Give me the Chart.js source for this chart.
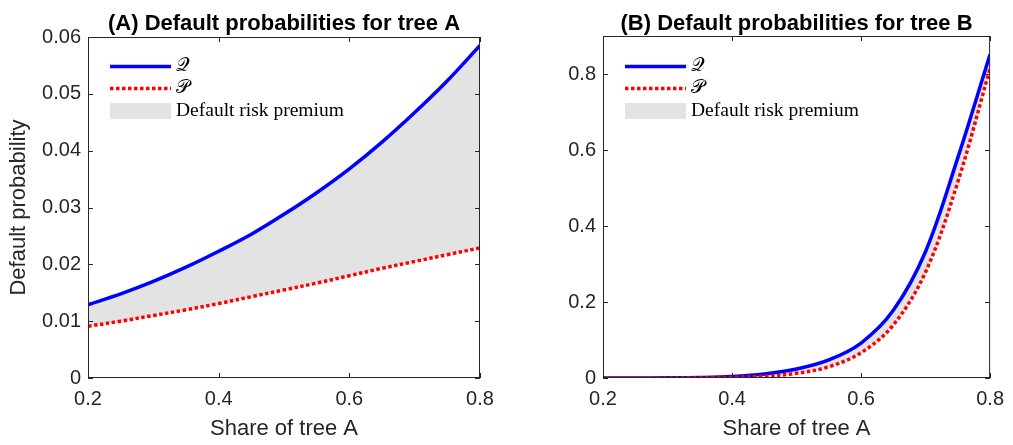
<!DOCTYPE html>
<html>
<head>
<meta charset="utf-8">
<script src="https://cdn.jsdelivr.net/npm/chart.js@4.4.1/dist/chart.umd.min.js"></script>
<style>
  html, body { margin: 0; padding: 0; background: #fff; }
  #wrap { position: relative; width: 1013px; height: 445px; }
  .panel { position: absolute; top: 0; height: 445px; }
  #panelA { left: 0; width: 506px; }
  #panelB { left: 506px; width: 507px; }
</style>
</head>
<body>
<div id="wrap">
  <div class="panel" id="panelA"><canvas id="chartA" width="506" height="445"></canvas></div>
  <div class="panel" id="panelB"><canvas id="chartB" width="507" height="445"></canvas></div>
</div>
<script>
// share of tree A on the x axis
const shareA = [0.2, 0.25, 0.3, 0.35, 0.4, 0.45, 0.5, 0.55, 0.6, 0.65, 0.7, 0.75, 0.8];

// tree A: risk-neutral (Q) and physical (P) default probabilities
const qTreeA = [0.0129, 0.0148, 0.0170, 0.0195, 0.0223, 0.0253, 0.0288, 0.0326, 0.0368, 0.0415, 0.0467, 0.0523, 0.0585];
const pTreeA = [0.0091, 0.0100, 0.0110, 0.0120, 0.0131, 0.0143, 0.0155, 0.0167, 0.0180, 0.0193, 0.0205, 0.0217, 0.0229];

// tree B
const qTreeB = [0.0001, 0.0002, 0.0005, 0.0014, 0.0040, 0.0105, 0.0235, 0.0475, 0.0920, 0.1780, 0.3330, 0.5800, 0.8520];
const pTreeB = [0.0000, 0.0001, 0.0002, 0.0006, 0.0017, 0.0047, 0.0123, 0.0295, 0.0664, 0.1395, 0.2790, 0.5160, 0.8150];

const xTicks = [0.2, 0.4, 0.6, 0.8];
const xTickLabels = ["0.2", "0.4", "0.6", "0.8"];
const yTicksA = [0, 0.01, 0.02, 0.03, 0.04, 0.05, 0.06];
const yTickLabelsA = ["0", "0.01", "0.02", "0.03", "0.04", "0.05", "0.06"];
const yTicksB = [0, 0.2, 0.4, 0.6, 0.8];
const yTickLabelsB = ["0", "0.2", "0.4", "0.6", "0.8"];

const legendLabels = ["\u{1D4AC}", "\u{1D4AB}", "Default risk premium"];

const AXIS_COLOR = "#262626";
const FILL_GRAY = "rgb(227,227,227)";
const SANS = "'Liberation Sans', Arial, Helvetica, sans-serif";

function pairs(xs, ys) {
  return xs.map((x, i) => ({ x: x, y: ys[i] }));
}

// box, inward ticks, title and the in-plot legend
const framePlugin = {
  id: "frame",
  afterDraw(chart, args, opts) {
    const ctx = chart.ctx;
    const a = chart.chartArea;
    const xs = chart.scales.x;
    const ys = chart.scales.y;
    ctx.save();

    // box
    ctx.strokeStyle = AXIS_COLOR;
    ctx.lineWidth = 1;
    ctx.strokeRect(a.left + 0.5, a.top + 0.5, a.right - a.left - 1, a.bottom - a.top - 1);

    // inward ticks on all four sides
    const len = 5;
    ctx.beginPath();
    xs.ticks.forEach(t => {
      const px = Math.round(xs.getPixelForValue(t.value)) + 0.5;
      ctx.moveTo(px, a.bottom);
      ctx.lineTo(px, a.bottom - len);
      ctx.moveTo(px, a.top);
      ctx.lineTo(px, a.top + len);
    });
    ys.ticks.forEach(t => {
      const py = Math.round(ys.getPixelForValue(t.value)) + 0.5;
      ctx.moveTo(a.left, py);
      ctx.lineTo(a.left + len, py);
      ctx.moveTo(a.right, py);
      ctx.lineTo(a.right - len, py);
    });
    ctx.stroke();

    // title
    ctx.fillStyle = "#000";
    ctx.font = "bold 22px " + SANS;
    ctx.textAlign = "center";
    ctx.textBaseline = "alphabetic";
    ctx.fillText(opts.title, (a.left + a.right) / 2, 30);

    // legend
    const lx = a.left + 22;
    const lw = 61;
    const q = chart.data.datasets[0];
    const p = chart.data.datasets[1];
    ctx.lineCap = "butt";

    ctx.strokeStyle = q.borderColor;
    ctx.lineWidth = q.borderWidth;
    ctx.setLineDash([]);
    ctx.beginPath();
    ctx.moveTo(lx, 66.5);
    ctx.lineTo(lx + lw, 66.5);
    ctx.stroke();

    ctx.strokeStyle = p.borderColor;
    ctx.lineWidth = p.borderWidth;
    ctx.setLineDash(p.borderDash);
    ctx.beginPath();
    ctx.moveTo(lx, 88.5);
    ctx.lineTo(lx + lw, 88.5);
    ctx.stroke();
    ctx.setLineDash([]);

    ctx.fillStyle = q.backgroundColor;
    ctx.fillRect(lx, 103, lw, 16);

    ctx.fillStyle = "#000";
    ctx.textAlign = "left";
    ctx.textBaseline = "middle";
    ctx.font = "19px 'DejaVu Serif', 'Liberation Serif', serif";
    ctx.fillText(legendLabels[0], lx + 66, 66);
    ctx.fillText(legendLabels[1], lx + 66, 88);
    ctx.font = "19.5px 'Liberation Serif', 'Times New Roman', serif";
    ctx.fillText(legendLabels[2], lx + 66, 111);

    ctx.restore();
  }
};

function makeChart(id, cfg) {
  return new Chart(document.getElementById(id), {
    type: "line",
    data: {
      datasets: [
        {
          label: legendLabels[0],
          data: pairs(shareA, cfg.q),
          borderColor: "#0000ff",
          borderWidth: 3.5,
          backgroundColor: FILL_GRAY,
          fill: "+1",
          pointRadius: 0,
          tension: 0.35,
          order: 1,
        },
        {
          label: legendLabels[1],
          data: pairs(shareA, cfg.p),
          borderColor: "#ff0000",
          borderWidth: 3.5,
          borderDash: [3.5, 2.5],
          borderCapStyle: "butt",
          fill: false,
          pointRadius: 0,
          tension: 0.35,
          order: 0,
        },
      ],
    },
    options: {
      responsive: false,
      animation: false,
      devicePixelRatio: 1,
      layout: {
        padding: { left: 0, right: cfg.padRight, top: cfg.padTop, bottom: 0 },
      },
      scales: {
        x: {
          type: "linear",
          min: 0.2,
          max: 0.8,
          afterBuildTicks: s => { s.ticks = xTicks.map(v => ({ value: v })); },
          afterFit: s => { s.height = 67; },
          grid: { display: false, drawTicks: false },
          border: { display: false },
          ticks: {
            padding: 9,
            color: AXIS_COLOR,
            font: { family: SANS, size: 20 },
            callback: (v, i) => xTickLabels[i],
          },
          title: {
            display: true,
            text: "Share of tree A",
            color: AXIS_COLOR,
            font: { family: SANS, size: 22 },
            padding: { top: 0, bottom: 3 },
          },
        },
        y: {
          min: cfg.yMin,
          max: cfg.yMax,
          afterBuildTicks: s => { s.ticks = cfg.yTicks.map(v => ({ value: v })); },
          afterFit: s => { s.width = cfg.yWidth; },
          grid: { display: false, drawTicks: false },
          border: { display: false },
          ticks: {
            padding: 7,
            color: AXIS_COLOR,
            font: { family: SANS, size: 20 },
            callback: (v, i) => cfg.yLabels[i],
          },
          title: {
            display: !!cfg.yTitle,
            text: cfg.yTitle || "",
            color: AXIS_COLOR,
            font: { family: SANS, size: 22 },
            padding: { top: 6, bottom: 0 },
          },
        },
      },
      plugins: {
        legend: { display: false },
        tooltip: { enabled: false },
        filler: { drawTime: "beforeDatasetsDraw" },
        frame: { title: cfg.title },
      },
    },
    plugins: [framePlugin],
  });
}

makeChart("chartA", {
  q: qTreeA,
  p: pTreeA,
  yMin: 0,
  yMax: 0.06,
  yTicks: yTicksA,
  yLabels: yTickLabelsA,
  yWidth: 88,
  yTitle: "Default probability",
  padRight: 26,
  padTop: 37,
  title: "(A) Default probabilities for tree A",
});

makeChart("chartB", {
  q: qTreeB,
  p: pTreeB,
  yMin: 0,
  yMax: 0.9,
  yTicks: yTicksB,
  yLabels: yTickLabelsB,
  yWidth: 97,
  padRight: 17,
  padTop: 36,
  title: "(B) Default probabilities for tree B",
});
</script>
</body>
</html>
